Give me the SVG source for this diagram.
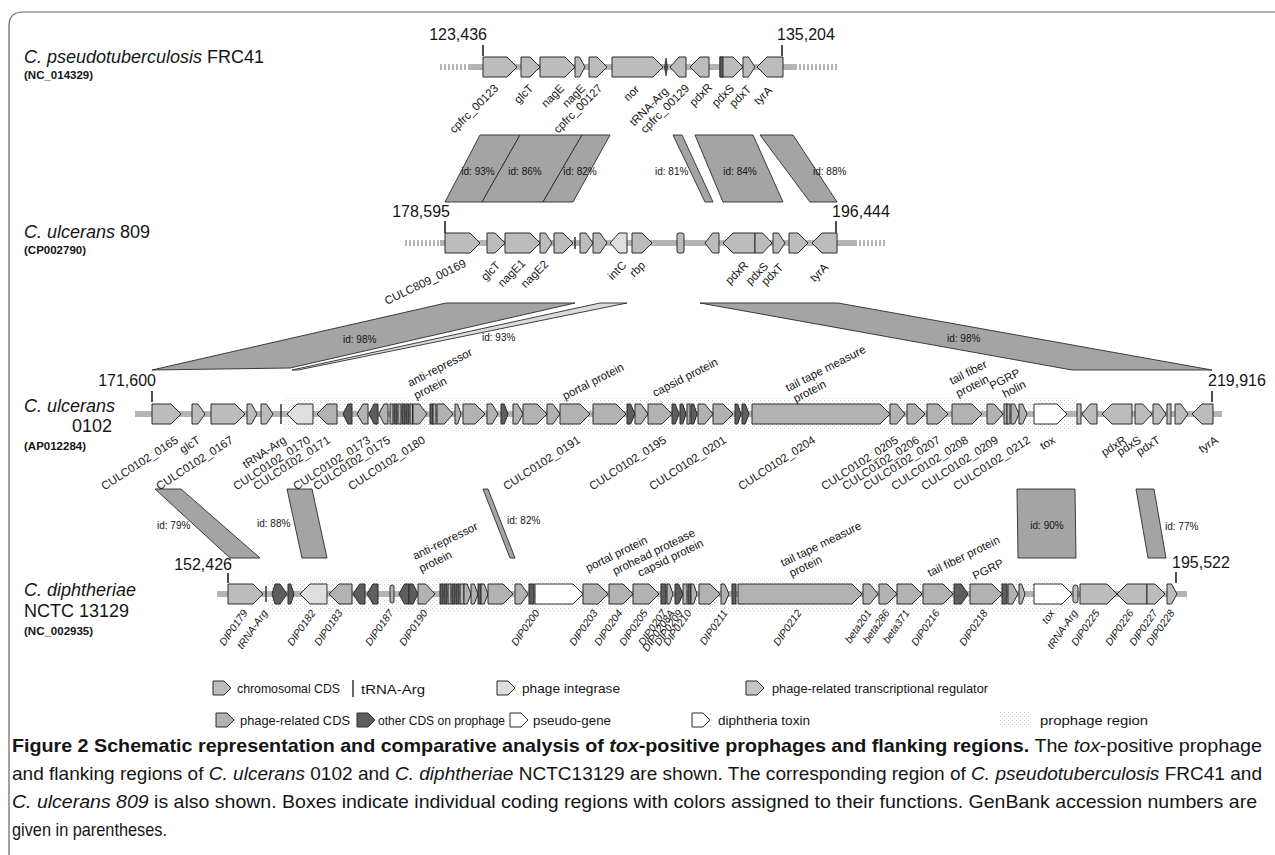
<svg xmlns="http://www.w3.org/2000/svg" width="1275" height="855" viewBox="0 0 1275 855">
<style>
text{font-family:"Liberation Sans",Arial,sans-serif;fill:#151515}
.c{fill:#bcbcbc;stroke:#2a2a2a;stroke-width:1}
.p{fill:#b2b2b2;stroke:#2a2a2a;stroke-width:1}
.i{fill:#dedede;stroke:#2a2a2a;stroke-width:1}
.r{fill:#c6c6c6;stroke:#2a2a2a;stroke-width:1}
.o{fill:#5e5e5e;stroke:#2a2a2a;stroke-width:1}
.w{fill:#ffffff;stroke:#2a2a2a;stroke-width:1}
.t{stroke:#333;stroke-width:1.5}
.al{fill:#a4a4a4;stroke:#2a2a2a;stroke-width:0.9}
.al2{fill:#dcdcdc;stroke:#2a2a2a;stroke-width:0.9}
.bb{stroke:#b4b4b4;stroke-width:6}
.dt{stroke:#b4b4b4;stroke-width:6;stroke-dasharray:2 2}
.tick{stroke:#222;stroke-width:1.6}
.num{font-size:16px}
.lb{font-size:11.5px;text-anchor:end}
.lbi{font-size:10.5px;text-anchor:end;font-style:italic}
.up{font-size:11.5px}
.id{font-size:10px}
.ttl{font-size:18px}
.acc{font-size:11.5px;font-weight:bold}
.lg{font-family:"Liberation Sans Narrow","Liberation Sans",sans-serif;font-size:13.5px}
.cap{font-family:"Liberation Sans Narrow","Liberation Sans",sans-serif;font-size:18.5px}
.pr{fill:url(#spk)}
</style>
<defs>
<pattern id="spk" width="4" height="4" patternUnits="userSpaceOnUse">
<rect x="0" y="0" width="1" height="1" fill="#cdcdcd"/>
<rect x="2" y="2" width="1" height="1" fill="#dddddd"/>
</pattern>
</defs>
<rect width="1275" height="855" fill="#fff"/>
<path d="M9,855 V26 Q9,12 23,12 H1275" fill="none" stroke="#666" stroke-width="1.2"/>

<!-- titles -->
<g id="title-frc41">
<text class="ttl" x="24" y="63"><tspan font-style="italic">C. pseudotuberculosis</tspan> FRC41</text>
<text class="acc" x="24" y="79">(NC_014329)</text>
</g>
<g id="title-809">
<text class="ttl" x="24" y="238"><tspan font-style="italic">C. ulcerans</tspan> 809</text>
<text class="acc" x="24" y="254">(CP002790)</text>
</g>
<g id="title-0102">
<text class="ttl" x="24" y="412" font-style="italic">C. ulcerans</text>
<text class="ttl" x="72" y="432">0102</text>
<text class="acc" x="24" y="450">(AP012284)</text>
</g>
<g id="title-nctc">
<text class="ttl" x="24" y="596" font-style="italic">C. diphtheriae</text>
<text class="ttl" x="24" y="617">NCTC 13129</text>
<text class="acc" x="24" y="635">(NC_002935)</text>
</g>

<!-- prophage regions -->
<g id="prophage">
<rect class="pr" x="283" y="397" width="794" height="34"/>
<rect class="pr" x="268" y="577" width="808" height="34"/>
</g>

<!-- connectors: alignments -->
<g id="connectors">
<polygon class="al" points="480,135 520,135 482,202 445,202"/>
<polygon class="al" points="520,135 582,135 543,202 482,202"/>
<polygon class="al" points="582,135 610,135 573,202 543,202"/>
<polygon class="al" points="673,135 682,135 713,202 705,202"/>
<polygon class="al" points="695,135 753,135 783,202 723,202"/>
<polygon class="al" points="760,135 793,135 837,202 810,202"/>
<polygon class="al" points="152,370 446,303 575,303 290,368"/>
<polygon class="al2" points="600,303 627,303 298,370 292,370"/>
<polygon class="al" points="700,303 838,303 1212,370 1072,370"/>
<polygon class="al" points="155,489 181,489 260,558 230,558"/>
<polygon class="al" points="287,489 312,489 327,558 302,558"/>
<polygon class="al" points="483,489 488,489 515,558 510,558"/>
<polygon class="al" points="1017,489 1075,489 1076,558 1018,558"/>
<polygon class="al" points="1136,489 1154,489 1166,558 1148,558"/>
<g class="id">
<text x="478" y="175" text-anchor="middle">id: 93%</text>
<text x="525" y="175" text-anchor="middle">id: 86%</text>
<text x="580" y="175" text-anchor="middle">id: 82%</text>
<text x="655" y="175">id: 81%</text>
<text x="740" y="175" text-anchor="middle">id: 84%</text>
<text x="813" y="175">id: 88%</text>
<text x="343" y="343">id: 98%</text>
<text x="482" y="341">id: 93%</text>
<text x="947" y="342">id: 98%</text>
<text x="157" y="529">id: 79%</text>
<text x="257" y="527">id: 88%</text>
<text x="507" y="524">id: 82%</text>
<text x="1047" y="529" text-anchor="middle">id: 90%</text>
<text x="1165" y="530">id: 77%</text>
</g>
</g>

<!-- Row 1: FRC41 -->
<g id="row-frc41">
<line class="dt" x1="440" y1="67" x2="470" y2="67"/>
<line class="bb" x1="470" y1="67" x2="795" y2="67"/>
<line class="dt" x1="795" y1="67" x2="837" y2="67"/>
<text class="num" x="487" y="40" text-anchor="end">123,436</text>
<line class="tick" x1="483" y1="45" x2="483" y2="56"/>
<text class="num" x="777" y="40">135,204</text>
<line class="tick" x1="782" y1="45" x2="782" y2="56"/>
<polygon class="c" points="483,57 507,57 517,67 507,77 483,77"/>
<polygon class="c" points="521,57 530,57 540,67 530,77 521,77"/>
<polygon class="c" points="540,57 565,57 575,67 565,77 540,77"/>
<polygon class="c" points="575,57 579.5,57 585,67 579.5,77 575,77"/>
<polygon class="c" points="589,57 597,57 607,67 597,77 589,77"/>
<polygon class="c" points="612,57 653,57 663,67 653,77 612,77"/>
<polygon points="664.5,67 666,58 667.5,67 666,76" fill="#444" stroke="#333" stroke-width="0.8"/>
<polygon class="c" points="670,67 679,57 686,57 686,77 679,77"/>
<polygon class="c" points="690,67 700,57 709,57 709,77 700,77"/>
<polygon class="c" points="720,57 733,57 743,67 733,77 720,77"/>
<rect class="o" x="720" y="57" width="3" height="20"/>
<polygon class="c" points="743,57 748.4,57 755,67 748.4,77 743,77"/>
<polygon class="c" points="757,67 767,57 783,57 783,77 767,77"/>
<g class="lb">
<text transform="translate(499,89) rotate(-45)">cpfrc_00123</text>
<text transform="translate(534,89) rotate(-45)">glcT</text>
<text transform="translate(565,89) rotate(-45)">nagE</text>
<text transform="translate(586,89) rotate(-45)">nagE</text>
<text transform="translate(603,89) rotate(-45)">cpfrc_00127</text>
<text transform="translate(640,90) rotate(-45)">nor</text>
<text transform="translate(669,92) rotate(-45)">tRNA-Arg</text>
<text transform="translate(690,89) rotate(-45)">cpfrc_00129</text>
<text transform="translate(713,88) rotate(-45)">pdxR</text>
<text transform="translate(735,89) rotate(-45)">pdxS</text>
<text transform="translate(752,90) rotate(-45)">pdxT</text>
<text transform="translate(773,91) rotate(-45)">tyrA</text>
</g>
</g>

<!-- Row 2: 809 -->
<g id="row-809">
<line class="dt" x1="405" y1="243" x2="440" y2="243"/>
<line class="bb" x1="440" y1="243" x2="855" y2="243"/>
<line class="dt" x1="855" y1="243" x2="885" y2="243"/>
<text class="num" x="450" y="217" text-anchor="end">178,595</text>
<line class="tick" x1="445" y1="221" x2="445" y2="233"/>
<text class="num" x="832" y="217">196,444</text>
<line class="tick" x1="836" y1="221" x2="836" y2="233"/>
<polygon class="c" points="445,233 470,233 480,243 470,253 445,253"/>
<polygon class="c" points="487,233 495,233 505,243 495,253 487,253"/>
<polygon class="c" points="505,233 530,233 540,243 530,253 505,253"/>
<polygon class="c" points="540,233 545.4,233 552,243 545.4,253 540,253"/>
<polygon class="c" points="554,233 563,233 573,243 563,253 554,253"/>
<line class="t" x1="575" y1="237" x2="575" y2="249"/>
<polygon class="c" points="580,233 586,233 593,243 586,253 580,253"/>
<polygon class="c" points="593,233 600,233 607,243 600,253 593,253"/>
<polygon class="i" points="610,243 619,233 627,233 627,253 619,253"/>
<polygon class="c" points="632,233 642,233 652,243 642,253 632,253"/>
<rect class="c" x="677" y="233" width="7" height="20" rx="2"/>
<polygon class="c" points="705,243 712.7,233 719,233 719,253 712.7,253"/>
<polygon class="c" points="723,243 733,233 755,233 755,253 733,253"/>
<polygon class="c" points="755,233 762.6,233 772,243 762.6,253 755,253"/>
<polygon class="c" points="773,233 778.4,233 785,243 778.4,253 773,253"/>
<polygon class="c" points="789,233 798,233 808,243 798,253 789,253"/>
<polygon class="c" points="812,243 822,233 837,233 837,253 822,253"/>
<g class="lb">
<text transform="translate(467,266) rotate(-26)">CULC809_00169</text>
<text transform="translate(501,266) rotate(-45)">glcT</text>
<text transform="translate(526,264) rotate(-45)">nagE1</text>
<text transform="translate(549,265) rotate(-45)">nagE2</text>
<text transform="translate(627,266) rotate(-45)">intC</text>
<text transform="translate(646,266) rotate(-45)">rbp</text>
<text transform="translate(749,266) rotate(-45)">pdxR</text>
<text transform="translate(769,267) rotate(-45)">pdxS</text>
<text transform="translate(784,268) rotate(-45)">pdxT</text>
<text transform="translate(829,268) rotate(-45)">tyrA</text>
</g>
</g>

<!-- Row 3: 0102 -->
<g id="row-0102">
<line class="bb" x1="135" y1="414" x2="1222" y2="414"/>
<text class="num" x="156" y="386" text-anchor="end">171,600</text>
<line class="tick" x1="152" y1="391" x2="152" y2="402"/>
<text class="num" x="1208" y="386">219,916</text>
<line class="tick" x1="1212" y1="391" x2="1212" y2="402"/>
<polygon class="c" points="152,404 171,404 181,414 171,424 152,424"/>
<polygon class="c" points="192,404 197.9,404 205,414 197.9,424 192,424"/>
<polygon class="c" points="211,404 235,404 245,414 235,424 211,424"/>
<polygon class="c" points="247,404 251.5,404 257,414 251.5,424 247,424"/>
<polygon class="c" points="261,404 266.4,404 273,414 266.4,424 261,424"/>
<line class="t" x1="281" y1="404" x2="281" y2="424"/>
<polygon class="i" points="287,414 297,404 313,404 313,424 297,424"/>
<polygon class="p" points="317,414 327,404 337,404 337,424 327,424"/>
<polygon class="o" points="343,414 348,404 352,404 352,424 348,424"/>
<polygon class="p" points="357,414 363,404 368,404 368,424 363,424"/>
<polygon class="o" points="369,414 374,404 378,404 378,424 374,424"/>
<polygon class="p" points="379,414 384,404 388,404 388,424 384,424"/>
<rect class="p" x="390" y="404" width="3" height="20"/>
<rect class="o" x="394" y="404" width="3" height="20"/>
<rect class="p" x="398" y="404" width="3" height="20"/>
<rect class="o" x="402" y="404" width="3" height="20"/>
<rect class="o" x="406" y="404" width="3" height="20"/>
<rect class="p" x="410" y="404" width="2.5" height="20"/>
<polygon class="p" points="413,404 419.3,404 427,414 419.3,424 413,424"/>
<rect class="o" x="430" y="404" width="3" height="20"/>
<rect class="p" x="433" y="404" width="3" height="20"/>
<polygon class="p" points="437,404 444.2,404 453,414 444.2,424 437,424"/>
<polygon class="p" points="455,404 457.7,404 461,414 457.7,424 455,424"/>
<polygon class="p" points="463,404 475,404 485,414 475,424 463,424"/>
<polygon class="p" points="487,404 492,404 498,414 492,424 487,424"/>
<polygon class="o" points="501,404 504.2,404 508,414 504.2,424 501,424"/>
<polygon class="p" points="513,404 517.5,404 523,414 517.5,424 513,424"/>
<polygon class="p" points="523,404 537,404 547,414 537,424 523,424"/>
<polygon class="p" points="547,404 552.9,404 560,414 552.9,424 547,424"/>
<polygon class="p" points="560,404 580,404 590,414 580,424 560,424"/>
<polygon class="p" points="593,404 616,404 626,414 616,424 593,424"/>
<polygon class="o" points="627,404 630.6,404 635,414 630.6,424 627,424"/>
<polygon class="p" points="635,404 640.9,404 648,414 640.9,424 635,424"/>
<polygon class="p" points="648,404 662,404 672,414 662,424 648,424"/>
<polygon class="o" points="672,404 675.2,404 679,414 675.2,424 672,424"/>
<polygon class="o" points="680,404 682.7,404 686,414 682.7,424 680,424"/>
<rect class="p" x="687" y="404" width="3" height="20"/>
<polygon class="o" points="691,404 693.7,404 697,414 693.7,424 691,424"/>
<polygon class="p" points="698,404 704.8,404 713,414 704.8,424 698,424"/>
<polygon class="p" points="713,404 723,404 733,414 723,424 713,424"/>
<polygon class="o" points="735,404 737.7,404 741,414 737.7,424 735,424"/>
<polygon class="o" points="742,404 745.2,404 749,414 745.2,424 742,424"/>
<polygon class="p" points="752,404 880,404 890,414 880,424 752,424"/>
<polygon class="p" points="890,404 896.8,404 905,414 896.8,424 890,424"/>
<polygon class="p" points="907,404 915,404 925,414 915,424 907,424"/>
<polygon class="p" points="927,404 938,404 948,414 938,424 927,424"/>
<polygon class="p" points="952,404 972,404 982,414 972,424 952,424"/>
<polygon class="p" points="987,404 994.2,404 1003,414 994.2,424 987,424"/>
<rect class="p" x="1004" y="404" width="3" height="20"/>
<rect class="p" x="1007" y="404" width="3" height="20"/>
<polygon class="p" points="1011,404 1014.6,404 1019,414 1014.6,424 1011,424"/>
<polygon class="p" points="1019,404 1022.6,404 1027,414 1022.6,424 1019,424"/>
<polygon class="w" points="1034,404 1057,404 1067,414 1057,424 1034,424"/>
<rect class="c" x="1077" y="404" width="4" height="20"/>
<polygon class="c" points="1082,414 1090.3,404 1097,404 1097,424 1090.3,424"/>
<polygon class="c" points="1102,414 1112,404 1132,404 1132,424 1112,424"/>
<polygon class="c" points="1135,404 1142.7,404 1152,414 1142.7,424 1135,424"/>
<polygon class="c" points="1153,404 1158.9,404 1166,414 1158.9,424 1153,424"/>
<rect class="c" x="1167" y="404" width="4" height="20"/>
<polygon class="c" points="1175,404 1180.9,404 1188,414 1180.9,424 1175,424"/>
<polygon class="c" points="1192,414 1202,404 1213,404 1213,424 1202,424"/>
<g class="up">
<text transform="translate(410,387) rotate(-27)">anti-repressor<tspan x="0" dy="14">protein</tspan></text>
<text transform="translate(565,400) rotate(-27)">portal protein</text>
<text transform="translate(655,397) rotate(-27)">capsid protein</text>
<text transform="translate(788,392) rotate(-27)">tail tape measure<tspan x="2" dy="13">protein</tspan></text>
<text transform="translate(952,385) rotate(-27)">tail fiber<tspan x="0" dy="14">protein</tspan></text>
<text transform="translate(992,390) rotate(-27)">PGRP</text>
<text transform="translate(1005,398) rotate(-27)">holin</text>
</g>
<g class="lb">
<text transform="translate(179,442) rotate(-33)">CULC0102_0165</text>
<text transform="translate(201,442) rotate(-33)">glcT</text>
<text transform="translate(234,442) rotate(-33)">CULC0102_0167</text>
<text transform="translate(287,442) rotate(-33)">tRNA-Arg</text>
<text transform="translate(311,442) rotate(-33)">CULC0102_0170</text>
<text transform="translate(331,442) rotate(-33)">CULC0102_0171</text>
<text transform="translate(371,442) rotate(-33)">CULC0102_0173</text>
<text transform="translate(391,442) rotate(-33)">CULC0102_0175</text>
<text transform="translate(426,442) rotate(-33)">CULC0102_0180</text>
<text transform="translate(581,442) rotate(-33)">CULC0102_0191</text>
<text transform="translate(667,442) rotate(-33)">CULC0102_0195</text>
<text transform="translate(727,442) rotate(-33)">CULC0102_0201</text>
<text transform="translate(816,442) rotate(-33)">CULC0102_0204</text>
<text transform="translate(899,442) rotate(-33)">CULC0102_0205</text>
<text transform="translate(920,442) rotate(-33)">CULC0102_0206</text>
<text transform="translate(941,442) rotate(-33)">CULC0102_0207</text>
<text transform="translate(969,442) rotate(-33)">CULC0102_0208</text>
<text transform="translate(999,442) rotate(-33)">CULC0102_0209</text>
<text transform="translate(1031,442) rotate(-33)">CULC0102_0212</text>
<text transform="translate(1056,442) rotate(-33)">tox</text>
<text transform="translate(1127,442) rotate(-33)">pdxR</text>
<text transform="translate(1142,442) rotate(-33)">pdxS</text>
<text transform="translate(1161,442) rotate(-33)">pdxT</text>
<text transform="translate(1219,442) rotate(-33)">tyrA</text>
</g>
</g>

<!-- Row 4: NCTC 13129 -->
<g id="row-nctc13129">
<line class="bb" x1="217" y1="594" x2="1187" y2="594"/>
<text class="num" x="232" y="570" text-anchor="end">152,426</text>
<line class="tick" x1="228" y1="573" x2="228" y2="583"/>
<text class="num" x="1172" y="568">195,522</text>
<line class="tick" x1="1176" y1="572" x2="1176" y2="583"/>
<polygon class="c" points="228,584 253,584 263,594 253,604 228,604"/>
<line class="t" x1="266" y1="586" x2="266" y2="602"/>
<polygon class="o" points="272,594 275,584 280,584 287,594 280,604 275,604"/>
<polygon class="o" points="288,584 290.7,584 294,594 290.7,604 288,604"/>
<polygon class="i" points="300,594 310,584 327,584 327,604 310,604"/>
<polygon class="p" points="329,594 339,584 352,584 352,604 339,604"/>
<polygon class="o" points="353,594 359.6,584 365,584 365,604 359.6,604"/>
<polygon class="o" points="367,594 373,584 378,584 378,604 373,604"/>
<rect class="p" x="390" y="585" width="4" height="18" rx="2"/>
<polygon class="o" points="399,594 404.5,584 409,584 409,604 404.5,604"/>
<polygon class="o" points="409,584 413,584 418,594 413,604 409,604"/>
<polygon class="p" points="418,584 425.7,584 435,594 425.7,604 418,604"/>
<rect class="o" x="440" y="584" width="3" height="20"/>
<rect class="o" x="444" y="584" width="3" height="20"/>
<rect class="p" x="448" y="584" width="3" height="20"/>
<rect class="o" x="452" y="584" width="3" height="20"/>
<rect class="o" x="456" y="584" width="3" height="20"/>
<rect class="p" x="460" y="584" width="4" height="20"/>
<polygon class="p" points="464,584 467.2,584 471,594 467.2,604 464,604"/>
<polygon class="p" points="471,584 474.2,584 478,594 474.2,604 471,604"/>
<rect class="o" x="478" y="584" width="3" height="20"/>
<polygon class="p" points="481,584 484.2,584 488,594 484.2,604 481,604"/>
<polygon class="p" points="488,584 503,584 513,594 503,604 488,604"/>
<polygon class="p" points="515,584 520.9,584 528,594 520.9,604 515,604"/>
<rect class="o" x="529" y="584" width="5" height="20"/>
<polygon class="w" points="535,584 573,584 583,594 573,604 535,604"/>
<polygon class="p" points="583,584 598,584 608,594 598,604 583,604"/>
<polygon class="p" points="609,584 623,584 633,594 623,604 609,604"/>
<polygon class="p" points="633,584 649,584 659,594 649,604 633,604"/>
<rect class="o" x="661" y="584" width="5" height="20"/>
<polygon class="p" points="667,584 669.7,584 673,594 669.7,604 667,604"/>
<polygon class="o" points="675,584 678.6,584 683,594 678.6,604 675,604"/>
<rect class="p" x="683" y="584" width="4" height="20"/>
<rect class="o" x="688" y="584" width="3" height="20"/>
<polygon class="p" points="691,584 693.7,584 697,594 693.7,604 691,604"/>
<polygon class="p" points="699,584 710,584 720,594 710,604 699,604"/>
<polygon class="p" points="721,584 724.6,584 729,594 724.6,604 721,604"/>
<rect class="o" x="732" y="584" width="4" height="20"/>
<polygon class="p" points="738,584 852,584 862,594 852,604 738,604"/>
<polygon class="p" points="863,584 869.8,584 878,594 869.8,604 863,604"/>
<polygon class="p" points="879,584 887,584 897,594 887,604 879,604"/>
<polygon class="p" points="897,584 912,584 922,594 912,604 897,604"/>
<polygon class="p" points="923,584 943,584 953,594 943,604 923,604"/>
<polygon class="o" points="954,584 961.3,584 968,594 961.3,604 954,604"/>
<polygon class="p" points="970,584 992,584 1002,594 992,604 970,604"/>
<rect class="o" x="1002" y="584" width="5" height="20"/>
<polygon class="p" points="1008,584 1012.5,584 1018,594 1012.5,604 1008,604"/>
<polygon class="p" points="1019,584 1021.7,584 1025,594 1021.7,604 1019,604"/>
<polygon class="w" points="1034,584 1062,584 1072,594 1062,604 1034,604"/>
<rect class="c" x="1073" y="585" width="5" height="18" rx="2.5"/>
<polygon class="c" points="1080,584 1107,584 1117,594 1107,604 1080,604"/>
<polygon class="c" points="1117,594 1127,584 1147,584 1147,604 1127,604"/>
<polygon class="c" points="1147,584 1155,584 1165,594 1155,604 1147,604"/>
<polygon class="c" points="1167,584 1171.5,584 1177,594 1171.5,604 1167,604"/>
<g class="up">
<text transform="translate(415,560) rotate(-26)">anti-repressor<tspan x="0" dy="14">protein</tspan></text>
<text transform="translate(588,572) rotate(-26)">portal protein</text>
<text transform="translate(615,575) rotate(-26)">prohead protease</text>
<text transform="translate(640,577) rotate(-26)">capsid protein</text>
<text transform="translate(783,567) rotate(-26)">tail tape measure<tspan x="3" dy="13">protein</tspan></text>
<text transform="translate(930,577) rotate(-26)">tail fiber protein</text>
<text transform="translate(975,580) rotate(-26)">PGRP</text>
</g>
<g class="lbi">
<text transform="translate(248,613) rotate(-55)">DIP0179</text>
<text transform="translate(268,613) rotate(-55)">tRNA-Arg</text>
<text transform="translate(316,613) rotate(-55)">DIP0182</text>
<text transform="translate(343,613) rotate(-55)">DIP0183</text>
<text transform="translate(394,613) rotate(-55)">DIP0187</text>
<text transform="translate(428,613) rotate(-55)">DIP0190</text>
<text transform="translate(540,613) rotate(-55)">DIP0200</text>
<text transform="translate(598,613) rotate(-55)">DIP0203</text>
<text transform="translate(623,613) rotate(-55)">DIP0204</text>
<text transform="translate(648,613) rotate(-55)">DIP0205</text>
<text transform="translate(667,613) rotate(-55)">DIP0207</text>
<text transform="translate(675,613) rotate(-55)">DIP0208A</text>
<text transform="translate(683,613) rotate(-55)">DIP0209</text>
<text transform="translate(692,613) rotate(-55)">DIP0210</text>
<text transform="translate(728,613) rotate(-55)">DIP0211</text>
<text transform="translate(802,613) rotate(-55)">DIP0212</text>
<text transform="translate(872,613) rotate(-55)">beta201</text>
<text transform="translate(890,613) rotate(-55)">beta286</text>
<text transform="translate(910,613) rotate(-55)">beta371</text>
<text transform="translate(940,613) rotate(-55)">DIP0216</text>
<text transform="translate(988,613) rotate(-55)">DIP0218</text>
<text transform="translate(1055,613) rotate(-55)">tox</text>
<text transform="translate(1078,613) rotate(-55)">tRNA-Arg</text>
<text transform="translate(1100,613) rotate(-55)">DIP0225</text>
<text transform="translate(1134,613) rotate(-55)">DIP0226</text>
<text transform="translate(1158,613) rotate(-55)">DIP0227</text>
<text transform="translate(1175,613) rotate(-55)">DIP0228</text>
</g>
</g>

<!-- legend -->
<g id="legend">
<polygon class="c" points="213,681 224,681 231,688 224,695 213,695"/>
<text class="lg" x="237" y="693" textLength="103" lengthAdjust="spacingAndGlyphs">chromosomal CDS</text>
<line class="t" x1="353" y1="680" x2="353" y2="697"/>
<text class="lg" x="361" y="694" textLength="64" lengthAdjust="spacingAndGlyphs">tRNA-Arg</text>
<polygon class="i" points="497,681 508,681 515,688 508,695 497,695"/>
<text class="lg" x="522" y="693" textLength="98" lengthAdjust="spacingAndGlyphs">phage integrase</text>
<polygon class="r" points="746,681 757,681 764,688 757,695 746,695"/>
<text class="lg" x="772" y="693" textLength="216" lengthAdjust="spacingAndGlyphs">phage-related transcriptional regulator</text>
<polygon class="p" points="216,713 227,713 234,720 227,727 216,727"/>
<text class="lg" x="240" y="725" textLength="110" lengthAdjust="spacingAndGlyphs">phage-related CDS</text>
<polygon class="o" points="357,713 368,713 375,720 368,727 357,727"/>
<text class="lg" x="378" y="725" textLength="127" lengthAdjust="spacingAndGlyphs">other CDS on prophage</text>
<polygon class="w" points="510,713 521,713 528,720 521,727 510,727"/>
<text class="lg" x="533" y="725" textLength="78" lengthAdjust="spacingAndGlyphs">pseudo-gene</text>
<polygon class="w" points="692,713 703,713 710,720 703,727 692,727"/>
<text class="lg" x="718" y="725" textLength="92" lengthAdjust="spacingAndGlyphs">diphtheria toxin</text>
<rect class="pr" x="1000" y="712" width="32" height="16"/>
<text class="lg" x="1040" y="725" textLength="108" lengthAdjust="spacingAndGlyphs">prophage region</text>
</g>

<!-- caption -->
<g id="caption" class="cap">
<text x="12" y="752" textLength="1250" lengthAdjust="spacingAndGlyphs"><tspan font-weight="bold">Figure 2 Schematic representation and comparative analysis of <tspan font-style="italic">tox</tspan>-positive prophages and flanking regions.</tspan> The <tspan font-style="italic">tox</tspan>-positive prophage</text>
<text x="12" y="780" textLength="1250" lengthAdjust="spacingAndGlyphs">and flanking regions of <tspan font-style="italic">C. ulcerans</tspan> 0102 and <tspan font-style="italic">C. diphtheriae</tspan> NCTC13129 are shown. The corresponding region of <tspan font-style="italic">C. pseudotuberculosis</tspan> FRC41 and</text>
<text x="12" y="808" textLength="1245" lengthAdjust="spacingAndGlyphs"><tspan font-style="italic">C. ulcerans 809</tspan> is also shown. Boxes indicate individual coding regions with colors assigned to their functions. GenBank accession numbers are</text>
<text x="12" y="836" textLength="155" lengthAdjust="spacingAndGlyphs">given in parentheses.</text>
</g>
</svg>
